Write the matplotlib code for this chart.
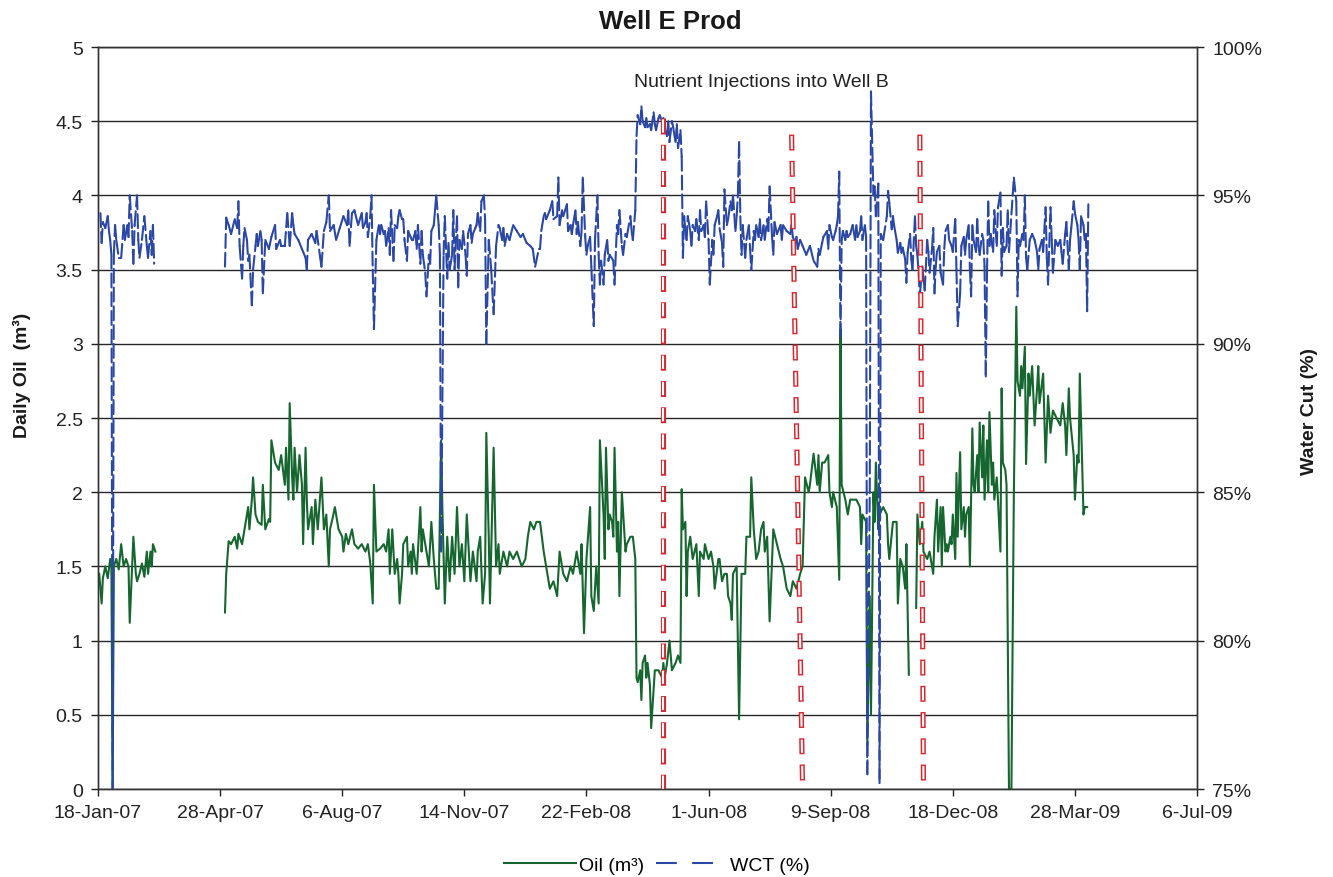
import numpy as np
import pandas as pd
import matplotlib
matplotlib.use("Agg")
import matplotlib.pyplot as plt
import matplotlib.dates as mdates
from matplotlib.collections import LineCollection
from matplotlib.lines import Line2D
from matplotlib.ticker import FuncFormatter, MultipleLocator

plt.rcParams['font.family'] = ['Liberation Sans', 'DejaVu Sans']
plt.rcParams['lines.scale_dashes'] = False

start = pd.Timestamp('2007-01-18')
nan = np.nan

# daily oil (m3), x = days since 18-Jan-07
oil_day = [1, 3, 4, 6, 8, 10, 11, 12, 13, 15, 17, 19, 21, 23, 25, 26, 28, 29, 31, 32, 34, 36, 38, 40, 41, 43, 44, 45, 47,
           75,
           104, 105, 107, 109, 112, 114, 115, 118, 120, 123, 124, 126, 127, 129, 131, 134, 135, 137, 140, 141, 142, 145,
           148, 150, 153, 154, 156, 157, 159, 160, 161, 163, 165, 167, 168, 170, 171, 172, 175, 176, 178, 180, 183, 185,
           187, 189, 190, 192, 194, 197, 200, 201, 203, 205, 208, 210, 213, 216, 219, 221, 223, 225, 226, 228, 231, 234,
           236, 238, 239, 241, 242, 243, 245, 246, 247, 249, 250, 253, 254, 256, 257, 258, 261, 264, 265, 266, 269, 271,
           273, 275, 277, 279, 281, 282, 284, 286, 288, 290, 292, 294, 296, 298, 300, 302, 305, 307, 310, 311, 313, 315,
           317, 318, 320, 321, 322, 324, 326, 328, 329, 332, 335, 337, 340, 343, 347, 350, 352, 354, 357, 359, 362, 365,
           367, 370, 373, 376, 378, 381, 384, 387, 389, 392, 395, 396, 398, 400, 403, 404, 406, 408, 410, 411, 414, 415,
           416, 418, 419, 421, 422, 423, 425, 426, 427, 429, 432, 433, 436, 438, 440, 441, 442, 444, 445, 446, 448, 449,
           450, 452, 453, 456, 459, 462, 463, 464, 466, 468, 470, 473, 475, 477, 478, 479, 481, 482, 483, 485, 487, 490,
           492, 493, 496, 497, 500, 502, 504, 505, 508, 509, 511, 513, 515, 516, 518, 519, 520, 523, 525, 527, 530, 531,
           534, 535, 537, 539, 541, 543, 545, 546, 548, 550, 552, 553, 556, 559, 561, 564, 567, 569, 572, 575, 577, 579,
           582, 583, 586, 589, 590, 591, 593, 595, 598, 599, 601, 602, 605, 607, 608, 609, 612, 614, 616, 618, 621, 624,
           625, 626, 629, 630, 632, 633, 635, 636, 637, 639, 640, 643, 646, 647, 648, 651, 654, 655, 657, 659, 661, 662,
           664, 667, 670, 671, 673, 675, 676, 679, 681, 684, 685, 687, 688, 690, 691, 692, 694, 695, 696, 698, 699, 700,
           702, 703, 704, 706, 707, 709, 710, 711, 713, 714, 716, 717, 718, 720, 721, 722, 724, 725, 726, 728, 729, 730,
           732, 733, 734, 736, 737, 739, 740, 741, 743, 744, 746, 748, 750, 752, 753, 755, 756, 757, 759, 760, 762, 763,
           765, 767, 769, 770, 771, 774, 776, 778, 780, 782, 785, 788, 790, 792, 793, 795, 796, 799, 800, 802, 803, 804,
           807, 808, 810]
oil_val = [1.45, 1.25, 1.42, 1.5, 1.42, 1.55, 1.5, 0.0, 1.5, 1.55, 1.48, 1.65, 1.5, 1.55, 1.5, 1.12, 1.5, 1.7, 1.45, 1.4,
           1.45, 1.52, 1.43, 1.6, 1.45, 1.6, 1.5, 1.65, 1.6,
           nan,
           1.19, 1.45, 1.67, 1.65, 1.7, 1.62, 1.72, 1.65, 1.75, 1.9, 1.75, 1.95, 2.1, 1.85, 1.8, 1.78, 2.05, 1.75, 1.82,
           1.8, 2.35, 2.2, 2.15, 2.25, 2.05, 2.3, 1.95, 2.6, 2.1, 1.95, 2.3, 2.0, 2.25, 2.05, 1.65, 2.3, 1.95, 1.75, 1.9,
           1.65, 1.95, 1.75, 2.1, 1.75, 1.85, 1.5, 1.75, 1.82, 1.9, 1.75, 1.7, 1.6, 1.72, 1.65, 1.75, 1.65, 1.62, 1.65,
           1.6, 1.65, 1.52, 1.25, 2.05, 1.6, 1.62, 1.65, 1.6, 1.75, 1.45, 1.75, 1.6, 1.45, 1.55, 1.45, 1.25, 1.45, 1.65,
           1.7, 1.5, 1.6, 1.45, 1.65, 1.45, 1.9, 1.6, 1.75, 1.6, 1.5, 1.8, 1.55, 1.35, 1.35, 2.35, 1.9, 1.25, 1.7, 1.4,
           1.7, 1.45, 1.9, 1.5, 1.65, 1.4, 1.85, 1.4, 1.6, 1.4, 1.6, 1.7, 1.25, 1.45, 2.4, 1.7, 1.25, 1.6, 2.3, 1.5, 1.65,
           1.45, 1.6, 1.5, 1.6, 1.55, 1.6, 1.5, 1.55, 1.7, 1.8, 1.75, 1.8, 1.8, 1.6, 1.5, 1.35, 1.4, 1.3, 1.6, 1.45, 1.4,
           1.5, 1.45, 1.6, 1.45, 1.65, 1.05, 1.55, 1.9, 1.3, 1.2, 1.5, 1.25, 2.35, 1.85, 1.55, 2.3, 1.75, 1.85, 1.8, 1.7,
           2.3, 1.6, 1.8, 1.3, 2.0, 1.6, 1.65, 1.7, 1.7, 1.55, 0.75, 0.72, 0.8, 0.6, 0.85, 0.9, 0.75, 0.85, 0.7, 0.41,
           0.8, 0.8, 0.75, 0.85, 0.75, 0.85, 1.0, 0.8, 0.85, 0.9, 0.85, 2.02, 1.75, 1.8, 1.3, 1.6, 1.7, 1.55, 1.65, 1.3,
           1.6, 1.55, 1.65, 1.55, 1.6, 1.5, 1.35, 1.55, 1.55, 1.4, 1.45, 1.45, 1.3, 1.25, 1.14, 1.45, 1.5, 0.47, 1.45,
           1.45, 1.7, 1.7, 2.1, 1.75, 1.55, 1.6, 1.75, 1.8, 1.6, 1.7, 1.13, 1.55, 1.75, 1.65, 1.55, 1.5, 1.35, 1.3, 1.4,
           1.35, 1.45, 1.5, 2.1, 2.0, 2.05, 2.26, 2.05, 2.25, 2.0, 2.2, 2.2, 2.25, 2.0, 1.9, 2.0, 1.9, 1.41, 3.1, 2.05,
           1.95, 1.85, 1.95, 1.95, 1.95, 1.9, 1.65, 1.85, 1.8, 0.3, 1.3, 0.5, 2.0, 1.8, 2.2, 1.75, 1.85, 1.9, 1.85, 1.65,
           1.55, 1.8, 1.8, 1.25, 1.55, 1.5, 1.35, 1.65, 0.77, nan, 1.22, 1.85, 1.65, 1.8, 1.6, 1.55, 1.6, 1.45, 1.7, 1.95,
           1.6, 1.9, 1.5, 1.9, 1.6, 1.65, 1.6, 1.7, 1.65, 1.85, 1.55, 2.13, 1.7, 2.27, 1.75, 1.9, 1.7, 1.85, 1.9, 1.5,
           2.43, 2.05, 2.0, 2.25, 2.0, 2.47, 2.1, 2.45, 1.95, 2.35, 2.0, 2.54, 2.05, 2.2, 1.95, 2.1, 1.95, 1.6, 2.7, 2.2,
           2.15, 2.05, 0.0, 0.0, 2.0, 3.25, 2.75, 2.65, 2.85, 2.7, 2.98, 2.19, 2.8, 2.65, 2.85, 2.45, 2.7, 2.85, 2.6, 2.8,
           2.2, 2.65, 2.4, 2.55, 2.5, 2.45, 2.6, 2.45, 2.25, 2.7, 2.5, 2.25, 1.95, 2.25, 2.2, 2.8, 1.85, 1.9, 1.9]

# water cut (%), same day axis
wct_day = [2, 3, 4, 6, 8, 9, 10, 11, 12, 13, 14, 15, 17, 19, 21, 22, 24, 25, 26, 28, 29, 30, 32, 33, 34, 36, 38, 40, 41,
           43, 44, 45, 46,
           75,
           104, 105, 107, 109, 112, 114, 115, 116, 118, 119, 120, 122, 123, 124, 126, 127, 129, 130, 131, 133, 134, 135,
           137, 140, 142, 145, 146, 149, 150, 153, 155, 157, 159, 160, 161, 164, 167, 170, 171, 172, 175, 178, 179, 182,
           183, 185, 187, 189, 190, 193, 195, 198, 201, 204, 205, 206, 208, 210, 213, 216, 217, 219, 220, 221, 223, 224,
           225, 226, 228, 230, 231, 232, 234, 235, 236, 238, 239, 240, 242, 243, 245, 246, 247, 249, 250, 251, 253, 254,
           256, 257, 258, 260, 261, 262, 264, 265, 266, 268, 269, 271, 272, 273, 275, 276, 277, 279, 280, 281, 283, 284,
           286, 287, 288, 290, 291, 292, 294, 295, 296, 298, 299, 301, 302, 303, 305, 306, 307, 309, 310, 311, 313, 314,
           316, 317, 318, 320, 322, 324, 326, 328, 329, 331, 332, 333, 335, 337, 340, 343, 346, 348, 351, 354, 356, 358,
           361, 362, 363, 365, 366, 367, 370, 372, 373, 376, 377, 378, 380, 381, 384, 385, 387, 388, 389, 391, 392, 393,
           395, 396, 397, 399, 400, 401, 403, 404, 406, 407, 409, 410, 411, 412, 414, 415, 417, 418, 419, 422, 423, 425,
           426, 427, 429, 430, 432, 433, 436, 437, 438, 440, 441, 442, 444, 445, 446, 448, 449, 450, 452, 453, 455, 456,
           457, 459, 460, 462, 463, 464, 466, 467, 468, 470, 471, 473, 474, 475, 477, 478, 479, 480, 481, 482, 483, 485,
           486, 487, 489, 490, 492, 493, 494, 496, 497, 498, 500, 501, 503, 504, 505, 507, 508, 509, 511, 512, 513, 515,
           516, 518, 519, 520, 522, 523, 524, 525, 526, 527, 528, 530, 531, 533, 534, 535, 537, 538, 539, 541, 542, 543,
           545, 546, 548, 549, 550, 552, 553, 554, 556, 559, 560, 561, 564, 567, 568, 569, 571, 572, 573, 575, 577, 580,
           583, 586, 589, 590, 591, 593, 594, 597, 598, 599, 601, 602, 604, 605, 606, 607, 608, 609, 610, 612, 613, 614,
           616, 618, 620, 621, 622, 624, 625, 626, 628, 629, 630, 632, 633, 635, 636, 637, 639, 640, 641, 643, 646, 647,
           648, 650, 651, 652, 654, 655, 657, 658, 659, 661, 662, 663, 665, 666, 667, 669, 670, 671, 672, 673, 675, 676,
           677, 679, 680, 681, 683, 684, 685, 686, 687, 689, 690, 692, 693, 694, 696, 697, 699, 700, 702, 703, 704, 706,
           707, 709, 710, 711, 713, 714, 715, 716, 717, 719, 720, 721, 722, 724, 725, 726, 727, 728, 729, 730, 731, 733,
           734, 736, 737, 739, 740, 741, 742, 744, 745, 746, 750, 752, 753, 754, 755, 757, 758, 759, 760, 761, 763, 765,
           767, 769, 770, 771, 773, 774, 776, 777, 778, 780, 781, 782, 784, 785, 786, 788, 789, 790, 792, 793, 795, 796,
           797, 799, 800, 802, 803, 804, 805, 807, 808, 809, 810, 811]
wct_val = [94.4, 93.4, 94.1, 93.9, 94.3, 93.8, 93.5, 93.0, 75.0, 93.0, 94.0, 93.5, 92.9, 92.9, 94.0, 93.5, 94.0, 93.6,
           95.0, 93.8, 92.7, 94.0, 95.0, 93.5, 92.9, 93.5, 94.3, 93.3, 92.9, 93.8, 93.0, 94.0, 92.7,
           nan,
           92.6, 94.25, 94.0, 93.7, 94.2, 93.9, 94.8, 93.3, 92.2, 93.3, 93.9, 93.5, 92.8, 93.0, 91.3, 92.5, 93.3, 93.7,
           93.3, 93.8, 93.5, 91.7, 93.5, 93.2, 93.6, 94.0, 93.2, 93.5, 93.3, 93.3, 94.4, 93.3, 94.4, 94.0, 93.7, 93.5,
           93.2, 92.9, 92.5, 93.5, 93.7, 93.4, 93.8, 92.9, 92.6, 93.8, 94.1, 95.0, 93.8, 94.0, 93.5, 93.9, 94.3, 94.0,
           94.5, 93.3, 94.4, 94.5, 94.0, 94.4, 93.9, 94.1, 94.4, 93.6, 94.3, 95.0, 92.5, 90.5, 93.5, 94.0, 93.7, 94.0,
           93.7, 93.8, 93.3, 93.9, 93.0, 94.5, 92.8, 94.0, 93.9, 94.3, 94.5, 94.2, 94.2, 93.5, 92.8, 93.8, 93.6, 93.5,
           93.5, 93.8, 93.2, 94.0, 92.7, 93.8, 93.0, 92.4, 91.6, 93.0, 92.7, 93.8, 94.0, 94.5, 95.0, 94.0, 93.0, 83.0,
           93.0, 94.3, 92.2, 93.4, 92.5, 93.0, 94.5, 92.5, 94.3, 91.9, 93.5, 93.2, 93.8, 93.0, 92.3, 93.7, 94.0, 93.4,
           93.7, 93.9, 94.0, 94.4, 93.8, 94.8, 95.0, 94.2, 90.0, 93.5, 92.5, 91.0, 93.3, 94.0, 93.9, 93.5, 93.9, 93.3,
           93.7, 93.5, 94.0, 93.8, 93.6, 93.7, 93.4, 93.3, 93.2, 92.6, 93.2, 93.2, 93.8, 94.3, 94.4, 94.2, 94.5, 94.8,
           94.2, 94.3, 95.6, 94.0, 94.5, 94.3, 94.7, 93.8, 94.0, 93.7, 94.0, 94.5, 93.7, 94.1, 93.3, 93.8, 95.6, 93.6,
           93.0, 93.3, 93.6, 92.6, 90.6, 93.5, 95.0, 93.0, 92.0, 92.8, 92.0, 93.0, 93.5, 92.8, 93.0, 92.8, 92.0, 94.0,
           93.7, 94.5, 93.3, 93.0, 93.7, 93.6, 94.3, 93.8, 93.5, 94.5, 97.0, 97.7, 97.4, 98.0, 97.5, 97.3, 97.6, 97.3,
           97.4, 97.2, 97.8, 97.4, 97.2, 97.6, 97.7, 97.5, 97.6, 97.3, 97.0, 97.5, 96.8, 97.5, 97.3, 96.8, 97.4, 96.6,
           97.2, 96.3, 92.9, 94.3, 93.8, 93.5, 94.3, 93.8, 93.3, 94.0, 93.8, 94.2, 93.5, 94.5, 93.8, 94.0, 93.6, 94.8,
           93.5, 92.0, 93.5, 93.0, 94.0, 94.3, 94.5, 93.9, 93.4, 92.6, 95.2, 94.0, 94.2, 94.8, 94.5, 95.0, 93.8, 94.3,
           95.0, 96.8, 94.3, 93.0, 94.0, 92.9, 93.5, 94.0, 93.2, 92.5, 93.8, 93.5, 94.0, 93.6, 94.2, 93.5, 94.0, 93.5,
           94.2, 93.8, 95.3, 93.6, 93.0, 94.1, 93.7, 94.0, 93.5, 94.0, 93.8, 93.7, 94.0, 93.6, 93.4, 93.6, 93.2, 93.5,
           93.3, 93.0, 93.3, 92.8, 92.6, 93.2, 93.0, 93.4, 93.6, 93.8, 93.2, 94.0, 93.6, 93.5, 93.8, 94.0, 94.3, 95.8,
           90.2, 93.5, 93.8, 93.5, 93.8, 93.6, 93.7, 94.0, 93.5, 94.0, 93.6, 93.8, 94.3, 93.5, 94.0, 93.6, 75.5, 85.0,
           98.5, 95.0, 95.3, 94.3, 95.4, 75.2, 93.7, 93.5, 94.3, 95.15, 94.75, 93.86, 94.3, 93.97, 93.5, 93.07, 93.4,
           93.07, 93.24, 92.85, 92.06, 93.07, 93.7, 92.85, 92.5, 94.3, 93.3, 93.0, 92.4, 91.6, 92.6, 92.2, 91.8, 93.5,
           93.1, 92.4, 93.2, 93.9, 91.7, 92.6, 93.1, 93.3, 92.4, 92.0, 93.2, 93.8, 94.0, 93.5, 93.3, 93.1, 94.2, 92.5,
           90.6, 91.7, 93.3, 93.6, 93.0, 93.5, 94.0, 92.5, 91.6, 94.0, 93.5, 93.1, 94.2, 93.3, 93.0, 93.7, 93.5, 92.6,
           88.9, 92.4, 94.8, 93.3, 93.7, 93.1, 94.5, 93.3, 94.6, 95.1, 92.3, 93.9, 93.1, 93.3, 94.5, 93.1, 95.6, 94.8,
           91.6, 93.5, 93.3, 93.7, 93.5, 95.0, 92.9, 92.5, 93.5, 93.7, 93.5, 93.1, 92.5, 93.2, 93.5, 93.1, 94.6, 92.9,
           92.0, 94.6, 93.5, 92.4, 93.5, 93.4, 93.3, 93.5, 93.1, 92.7, 93.7, 94.1, 92.5, 93.5, 93.9, 94.8, 94.4, 94.0,
           93.5, 92.5, 94.3, 94.0, 93.5, 93.7, 91.1, 94.7]

# nutrient injections into Well B (top / bottom day, top oil value)
inj_top_day = [463, 568, 673]
inj_bot_day = [463, 577, 676]
inj_top_val = [4.52, 4.41, 4.41]

tick_days = list(range(0, 901, 100))

green = '#16662f'
blue = '#2b47a6'
red = '#d8262e'


def to_num(days):
    return mdates.date2num(start + pd.to_timedelta(np.asarray(days, dtype=float), unit='D'))


fig = plt.figure(figsize=(13.33, 8.78), dpi=100)
ax = fig.add_axes([0.0735, 0.1002, 0.8245, 0.8451])
ax2 = ax.twinx()

# oil
ax.plot(to_num(oil_day), oil_val, color=green, lw=1.5, zorder=3)

# water cut: each segment dashed on its own (Excel style)
pts = np.column_stack([to_num(wct_day), np.asarray(wct_val, dtype=float)])
segs = [pts[i:i + 2] for i in range(len(pts) - 1) if np.isfinite(pts[i:i + 2]).all()]
lc = LineCollection(segs, colors=blue, linewidths=1.5, linestyles=[(0, (10, 3.5))], capstyle='round', zorder=3)
ax2.add_collection(lc)

# injection markers (hollow red dashes)
for td, bd, tv in zip(inj_top_day, inj_bot_day, inj_top_val):
    xs = to_num([td, bd])
    ax2.plot(xs, [tv, 0], transform=ax.transData, color=red, lw=3.7,
             linestyle=(0, (11.5, 7.4)), dash_capstyle='butt', zorder=5)
    ax2.plot(xs, [tv, 0], transform=ax.transData, color='white', lw=1.5,
             linestyle=(17.9, (9.5, 9.4)), dash_capstyle='butt', zorder=6)

ax.set_xlim(to_num([0, 900]))
ax.set_ylim(0, 5)
ax2.set_ylim(75, 100)

ax.yaxis.set_major_locator(MultipleLocator(0.5))
ax.yaxis.set_major_formatter(FuncFormatter(lambda v, p: f'{v:g}'))
ax2.yaxis.set_major_locator(MultipleLocator(5))
ax2.yaxis.set_major_formatter(FuncFormatter(lambda v, p: f'{v:.0f}%'))

tick_dates = start + pd.to_timedelta(tick_days, unit='D')
ax.set_xticks(to_num(tick_days))
ax.set_xticklabels([f"{d.day}-{d.strftime('%b-%y')}" for d in tick_dates])

ax.grid(axis='y', color='#262626', lw=1.0)
ax.grid(axis='x', visible=False)
ax.set_axisbelow(True)

for a in (ax, ax2):
    for s in a.spines.values():
        s.set_color('#333333')
        s.set_linewidth(1.0)
ax.tick_params(axis='both', labelsize=14, length=5, width=1, direction='out', pad=6, colors='#222222')
ax2.tick_params(axis='y', labelsize=14, length=5, width=1, direction='out', pad=6, colors='#222222')

fig.text(670 / 1333, 1 - 22 / 878, 'Well E Prod', ha='center', va='center',
         fontsize=18.5, weight='bold', color='#1a1a1a')
ax.text(0.604, 0.954, 'Nutrient Injections into Well B', transform=ax.transAxes,
        ha='center', va='center', fontsize=14, color='#222222')
fig.text(22 / 1333, 1 - 375 / 878, 'Daily Oil  (m³)', rotation=90, ha='center', va='center',
         fontsize=14, weight='bold', color='#1a1a1a')
fig.text(1310 / 1333, 1 - 412 / 878, 'Water Cut (%)', rotation=90, ha='center', va='center',
         fontsize=14, weight='bold', color='#1a1a1a')

handles = [Line2D([], [], color=green, lw=1.5),
           Line2D([], [], color=blue, lw=1.5, linestyle=(0, (15, 11)))]
fig.legend(handles, ['Oil (m³)', 'WCT (%)'], loc='center', bbox_to_anchor=(657 / 1333, 1 - 866 / 878),
           ncol=2, frameon=False, fontsize=14, handlelength=3.7, handletextpad=0.15, columnspacing=0.6)

fig.savefig('out.png', dpi=100)
